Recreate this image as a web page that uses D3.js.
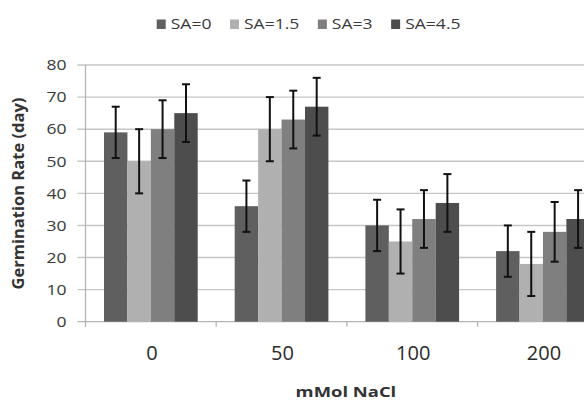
<!DOCTYPE html>
<html><head><meta charset="utf-8">
<script src="https://cdn.jsdelivr.net/npm/d3@7"></script>
<style>html,body{margin:0;padding:0;background:#fff;overflow:hidden}</style>
</head><body>
<svg id="c" width="584" height="400"></svg>
<script>
const categories = ["0", "50", "100", "200"];
const seriesNames = ["SA=0", "SA=1.5", "SA=3", "SA=4.5"];
const sa0 = [59, 36, 30, 22];
const sa15 = [50, 60, 25, 18];
const sa3 = [60, 63, 32, 28];
const sa45 = [65, 67, 37, 32];
const err0 = [8, 8, 8, 8];
const err15 = [10, 10, 10, 10];
const err3 = [9, 9, 9, 9.3];
const err45 = [9, 9, 9, 9];
const yTicks = [0, 10, 20, 30, 40, 50, 60, 70, 80];
const colors = ["#5f5f5f", "#b0b0b0", "#7f7f7f", "#4d4d4d"];

const values = [sa0, sa15, sa3, sa45];
const errs = [err0, err15, err3, err45];

const svg = d3.select("#c");
const FONT = "'Open Sans', sans-serif";
const K = 1.17; // horizontal text stretch

const x0 = 85.5, step = 130.7;
const yTop = 65, yBot = 321.7;
const x = d3.scaleBand().domain(categories).range([x0, x0 + step * categories.length]).paddingInner(0).paddingOuter(0);
const xi = d3.scaleBand().domain(seriesNames).range([18.5, step - 18.5]).padding(0);
const y = d3.scaleLinear().domain([0, 80]).range([yBot, yTop]);

// gridlines
svg.append("g").selectAll("line").data(yTicks.filter(d => d > 0)).join("line")
  .attr("x1", x0 - 8).attr("x2", 584).attr("y1", d => y(d)).attr("y2", d => y(d))
  .attr("stroke", "#c6c6c6").attr("stroke-width", 1.4);
svg.append("line").attr("x1", x0 - 8).attr("x2", 584).attr("y1", y(0)).attr("y2", y(0))
  .attr("stroke", "#b4b4b4").attr("stroke-width", 1.3);

// bars
const groups = svg.append("g").selectAll("g").data(categories).join("g")
  .attr("transform", d => `translate(${x(d)},0)`);
seriesNames.forEach((s, si) => {
  groups.append("rect")
    .attr("x", xi(s)).attr("width", xi.bandwidth())
    .attr("y", (d, i) => y(values[si][i]))
    .attr("height", (d, i) => y(0) - y(values[si][i]))
    .attr("fill", colors[si]);
});
// error bars
seriesNames.forEach((s, si) => {
  const cx = xi(s) + xi.bandwidth() / 2;
  groups.append("line").attr("x1", cx).attr("x2", cx)
    .attr("y1", (d, i) => y(values[si][i] + errs[si][i]))
    .attr("y2", (d, i) => y(values[si][i] - errs[si][i]))
    .attr("stroke", "#111").attr("stroke-width", 2);
  [1, -1].forEach(sg => {
    groups.append("line").attr("x1", cx - 4).attr("x2", cx + 4)
      .attr("y1", (d, i) => y(values[si][i] + sg * errs[si][i]))
      .attr("y2", (d, i) => y(values[si][i] + sg * errs[si][i]))
      .attr("stroke", "#111").attr("stroke-width", 2);
  });
});

// y axis line
svg.append("line").attr("x1", x0).attr("x2", x0).attr("y1", yTop).attr("y2", yBot + 5)
  .attr("stroke", "#b4b4b4").attr("stroke-width", 1.3);
svg.append("g").selectAll("line").data(categories.slice(1)).join("line")
  .attr("x1", d => x(d)).attr("x2", d => x(d)).attr("y1", yBot).attr("y2", yBot + 5)
  .attr("stroke", "#b4b4b4").attr("stroke-width", 1.3);

// y tick labels
svg.append("g").selectAll("text").data(yTicks).join("text")
  .attr("transform", d => `translate(66.5,${y(d) + 5.3}) scale(${K},1)`)
  .attr("text-anchor", "end").attr("font-family", FONT).attr("font-size", 15)
  .attr("fill", "#3a3a3a").text(d => d);

// x tick labels
svg.append("g").selectAll("text").data(categories).join("text")
  .attr("x", d => x(d) + step / 2 + 1).attr("y", 359.5)
  .attr("text-anchor", "middle").attr("font-family", FONT).attr("font-size", 20)
  .attr("fill", "#2a2a2a").text(d => d);

// axis titles
svg.append("text").attr("transform", `translate(${x0 + step * 2 - 1},396.5) scale(1.27,1)`)
  .attr("text-anchor", "middle").attr("font-family", FONT).attr("font-size", 14.5)
  .attr("font-weight", "bold").attr("fill", "#333").text("mMol NaCl");
svg.append("text").attr("transform", `translate(23.5,193.5) rotate(-90)`)
  .attr("text-anchor", "middle").attr("font-family", FONT).attr("font-size", 16.5)
  .attr("font-weight", "bold").attr("fill", "#333").text("Germination Rate (day)");

// legend
const leg = svg.append("g");
let lx = 156.7;
seriesNames.forEach((s, si) => {
  leg.append("rect").attr("x", lx).attr("y", 19.5).attr("width", 9).attr("height", 9.5).attr("fill", colors[si]);
  const t = leg.append("text").attr("transform", `translate(${lx + 14},29) scale(${K},1)`)
    .attr("font-family", FONT).attr("font-size", 15).attr("fill", "#3a3a3a").text(s);
  const w = t.node().getComputedTextLength() * K;
  lx += 14 + w + 18.5;
});
</script>
</body></html>
